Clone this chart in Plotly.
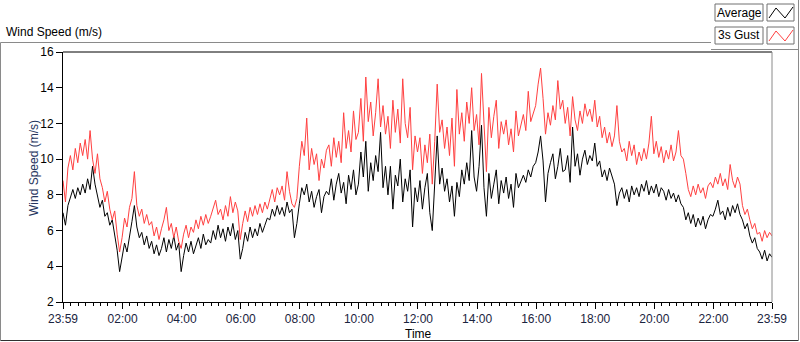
import pandas as pd
import plotly.graph_objects as go

# ---------------- data (5-minute samples) ----------------
start_time = "2023-05-01 23:59"
end_time = "2023-05-02 23:59"

average_speed = [
    7.0, 6.3, 7.4, 7.9, 8.3, 7.8, 8.4, 8.0, 8.6, 8.1, 8.9, 8.3,
    9.6, 8.6, 8.0, 7.3, 7.7, 6.8, 7.0, 6.3, 6.6, 5.7, 4.9, 3.7,
    4.4, 5.3, 4.8, 5.8, 6.5, 7.4, 6.2, 5.6, 5.9, 5.2, 5.7, 5.0,
    5.4, 4.7, 5.2, 4.6, 5.0, 5.6, 4.8, 5.5, 5.0, 5.7, 4.9, 5.3,
    3.7, 4.6, 5.3, 4.8, 5.4, 4.7, 5.1, 5.6, 5.0, 5.8, 5.2, 5.5,
    5.3, 6.0, 5.5, 6.3, 5.6, 6.1, 5.4, 6.2, 5.7, 6.4, 5.5, 6.0,
    4.4, 5.0, 5.9, 5.4, 6.2, 5.6, 6.1, 5.7, 6.4, 5.9, 6.3, 6.7,
    6.6, 7.2, 6.8, 7.4, 6.9, 7.3, 6.8, 7.6, 7.0, 7.2, 5.6, 6.4,
    7.5, 8.4, 8.0, 8.6, 7.6, 8.2, 7.3, 7.9, 8.3, 7.0, 7.9, 8.2,
    8.0, 8.9, 7.7, 8.6, 9.2, 8.1, 8.7, 7.5, 9.1, 8.3, 9.4, 8.0,
    8.6, 10.4, 9.0, 11.0, 8.2, 9.8, 8.8, 10.2, 9.3, 11.5, 8.4, 9.6,
    8.0, 9.6, 7.2, 9.1, 8.5, 10.0, 7.6, 8.9, 8.2, 9.4, 6.2, 8.4,
    7.6, 8.8, 7.2, 8.4, 9.2, 7.0, 6.0, 9.0, 11.3, 8.6, 9.5, 8.2,
    8.9, 7.6, 8.5, 6.8, 8.7, 7.9, 9.4, 8.6, 9.8, 8.8, 11.6, 9.0,
    8.2, 9.6, 11.9, 8.4, 6.8, 9.2, 7.8, 8.6, 9.4, 7.5, 8.8, 8.1,
    9.0, 7.8, 8.6, 7.3, 9.2, 8.4, 8.8, 9.1, 8.7, 9.4, 9.0, 9.6,
    9.8, 10.4, 11.3, 9.9, 7.6, 9.2, 9.8, 10.3, 8.9, 9.6, 10.6, 9.3,
    9.4, 10.2, 8.7, 11.8, 9.6, 10.3, 9.1, 10.0, 10.5, 9.7, 10.2, 9.9,
    10.9, 9.6, 9.9, 9.0, 9.4, 8.8, 9.5, 9.0, 8.6, 7.4, 8.1, 8.4,
    7.8, 8.3, 7.6, 8.5, 8.0, 8.4, 7.9, 8.6, 8.2, 8.8, 8.0, 8.5,
    8.1, 8.6, 7.9, 8.4, 8.2, 7.7, 8.3, 7.8, 8.1, 7.6, 8.0, 7.5,
    7.3, 6.6, 7.0, 6.4, 6.9, 6.2, 6.7, 6.3, 6.8, 6.1, 6.6, 6.9,
    6.8, 7.2, 7.7, 6.9, 7.1, 6.6, 7.3, 6.8, 7.4, 7.0, 7.5, 6.9,
    6.6, 6.1, 6.4, 5.7, 5.3, 5.6, 5.0, 4.8, 4.4, 4.9, 4.3, 4.7, 4.5,
]

gust_speed = [
    8.8, 7.6, 9.5, 10.2, 9.4, 10.6, 9.8, 10.9, 10.2, 11.1, 10.0, 11.6,
    10.0, 9.2, 10.3, 8.9, 8.4, 7.6, 8.2, 7.2, 6.6, 7.1, 5.8, 4.8,
    5.6, 6.7, 6.2, 7.3, 7.8, 9.3, 7.4, 6.8, 7.2, 6.4, 6.9, 6.3,
    6.5, 5.7, 6.2, 5.5, 6.1, 6.6, 7.3, 6.0, 6.4, 5.6, 6.2, 5.4,
    5.0, 5.8, 6.3, 5.6, 6.2, 5.9, 6.6, 6.1, 6.8, 6.3, 6.9, 6.4,
    6.8, 7.3, 7.7, 6.9, 7.2, 6.6, 7.4, 6.8, 7.9, 7.0, 7.6, 7.1,
    5.5, 6.4, 7.1, 6.5, 7.3, 6.8, 7.4, 6.9, 7.5, 7.0, 7.6, 7.2,
    7.8, 8.3, 7.6, 8.4, 8.0, 8.5, 7.7, 9.3, 8.2, 7.5, 7.3, 7.8,
    9.6, 11.0, 10.2, 12.3, 9.4, 10.6, 9.7, 10.3, 8.8, 10.0, 9.5, 10.5,
    10.8, 9.6, 11.2, 10.1, 11.0, 9.8, 12.6, 10.6, 11.6, 10.4, 12.7, 11.1,
    11.5, 13.4, 11.0, 14.6, 12.1, 13.2, 11.3, 12.6, 14.5, 11.8, 13.0, 11.4,
    12.4, 10.6, 13.3, 11.5, 12.8, 10.9, 14.5, 12.0, 11.2, 12.9, 9.4, 11.3,
    10.4, 11.2, 9.2, 10.8, 9.8, 11.4, 8.6, 11.0, 14.2, 11.5, 12.2, 10.6,
    11.8, 10.2, 12.3, 9.6, 13.9, 11.4, 12.6, 11.0, 13.2, 12.0, 14.0, 11.6,
    12.5, 10.8, 14.8, 12.0, 9.3, 12.9, 11.2, 12.4, 13.3, 10.6, 12.1, 11.4,
    12.2, 10.8, 11.7, 10.4, 12.7, 11.3, 12.0, 12.5, 11.6, 13.8, 12.1, 12.6,
    13.0, 14.2, 15.1, 13.4, 11.4, 12.6, 11.9, 13.0, 12.2, 14.4, 12.8, 13.3,
    12.0, 12.9, 11.3, 13.5, 12.2, 11.6, 12.7, 12.0, 13.1, 12.4, 12.8, 12.1,
    13.3, 11.8, 12.4, 11.2, 11.8, 10.9, 11.5, 10.7, 11.3, 13.0, 11.0, 10.4,
    10.6, 9.9, 11.0, 10.2, 10.8, 9.7, 10.4, 9.9, 10.6, 10.0, 10.9, 12.4,
    10.3, 11.0, 10.1, 10.7, 9.8, 10.5, 10.0, 10.8, 9.9, 10.4, 11.6, 10.2,
    10.0, 9.2, 8.3, 7.9, 8.5, 8.0, 8.6, 8.1, 8.4, 7.8, 8.5, 8.7,
    8.4, 9.0, 8.6, 9.2, 8.5, 8.9, 8.3, 9.7, 8.8, 8.4, 9.0, 8.6,
    7.4, 6.9, 7.2, 6.6, 6.1, 6.4, 5.8, 5.9, 5.4, 6.0, 5.6, 5.9, 5.7,
]

tick_labels = ["23:59", "02:00", "04:00", "06:00", "08:00", "10:00", "12:00",
               "14:00", "16:00", "18:00", "20:00", "22:00", "23:59"]
y_ticks = [2, 4, 6, 8, 10, 12, 14, 16]

series_names = ["Average", "3s Gust"]
series_colors = ["#000000", "#ff4040"]

# ---------------- derived axis helpers ----------------
times = pd.date_range(start_time, periods=len(average_speed), freq="5min")
tick_times = ([pd.Timestamp(start_time)] +
              [pd.Timestamp("2023-05-02 %02d:00" % h) for h in range(2, 24, 2)] +
              [pd.Timestamp(end_time)])
minor_times = pd.date_range("2023-05-02 00:00", "2023-05-02 23:45", freq="15min")

W, H = 800, 342
L, R, T, B = 63, 772, 52, 302


def px(x):
    return (x - L) / (R - L)


def py(y):
    return (B - y) / (B - T)


FONT = "Liberation Sans, Arial, sans-serif"
GRAY = "#8a8a8a"

fig = go.Figure()
fig.add_trace(go.Scatter(x=times, y=average_speed, mode="lines", name=series_names[0],
                         line=dict(color=series_colors[0], width=1), hoverinfo="skip"))
fig.add_trace(go.Scatter(x=times, y=gust_speed, mode="lines", name=series_names[1],
                         line=dict(color=series_colors[1], width=1), hoverinfo="skip"))

shapes = []


def line(x0, y0, x1, y1, color, width=1):
    shapes.append(dict(type="line", xref="paper", yref="paper",
                       x0=px(x0), y0=py(y0), x1=px(x1), y1=py(y1),
                       line=dict(color=color, width=width), layer="above"))


# outer panel frame
line(0.5, 42.5, 711, 42.5, GRAY)
line(0.5, 42.5, 0.5, 340.5, GRAY)
line(0.5, 340.5, 798.5, 340.5, "#303030")
line(798.5, 0, 798.5, 340.5, GRAY)
line(711, 49.5, 798.5, 49.5, GRAY)
# plot frame (top & right)
line(L, T, R, T, "#000000")
line(R, T, R, B, GRAY)

annotations = []

# legend boxes
for i, (name, col) in enumerate(zip(series_names, series_colors)):
    top = 4 + 23 * i
    bot = top + 17
    shapes.append(dict(type="rect", xref="paper", yref="paper",
                       x0=px(715), x1=px(763), y0=py(bot), y1=py(top),
                       line=dict(color="#707070", width=1), fillcolor="white", layer="above"))
    shapes.append(dict(type="rect", xref="paper", yref="paper",
                       x0=px(767), x1=px(794), y0=py(bot), y1=py(top),
                       line=dict(color="#707070", width=1), fillcolor="white", layer="above"))
    pts = [(769, bot - 3), (776, top + 4), (785, bot - 3), (793, top + 3)]
    path = "M " + " L ".join("%f,%f" % (px(a), py(b)) for a, b in pts)
    shapes.append(dict(type="path", xref="paper", yref="paper", path=path,
                       line=dict(color=col, width=1), layer="above"))
    annotations.append(dict(text=name, xref="paper", yref="paper", x=px(739), y=py((top + bot) / 2),
                            xanchor="center", yanchor="middle", showarrow=False,
                            font=dict(family=FONT, size=12, color="#000000")))

annotations.append(dict(text="Wind Speed (m/s)", xref="paper", yref="paper", x=px(4), y=py(32),
                        xanchor="left", yanchor="middle", showarrow=False,
                        font=dict(family=FONT, size=12, color="#000000")))
annotations.append(dict(text="Wind Speed (m/s)", xref="paper", yref="paper", x=px(34), y=py(168),
                        xanchor="center", yanchor="middle", showarrow=False, textangle=-90,
                        font=dict(family=FONT, size=12, color="#26365e")))
annotations.append(dict(text="Time", xref="paper", yref="paper", x=px(418), y=py(334),
                        xanchor="center", yanchor="middle", showarrow=False,
                        font=dict(family=FONT, size=12, color="#000000")))

fig.update_layout(
    width=W, height=H,
    margin=dict(l=L, r=W - R, t=T, b=H - B, pad=0),
    paper_bgcolor="white", plot_bgcolor="white",
    showlegend=False,
    font=dict(family=FONT, size=12, color="#000000"),
    shapes=shapes, annotations=annotations,
    xaxis=dict(
        type="date",
        range=[tick_times[0], tick_times[-1]],
        tickmode="array", tickvals=tick_times, ticktext=tick_labels,
        ticks="outside", ticklen=6, tickwidth=1, tickcolor="#000000",
        showline=True, linecolor="#000000", linewidth=1,
        showgrid=False, zeroline=False,
        tickfont=dict(family=FONT, size=12, color="#1a2440"),
        minor=dict(tickmode="array", tickvals=list(minor_times), ticks="outside",
                   ticklen=3, tickwidth=1, tickcolor="#000000", showgrid=False),
    ),
    yaxis=dict(
        range=[2, 16], tickmode="array", tickvals=y_ticks,
        ticks="outside", ticklen=6, tickwidth=1, tickcolor="#000000",
        showline=True, linecolor="#000000", linewidth=1,
        showgrid=False, zeroline=False,
        tickfont=dict(family=FONT, size=12, color="#000000"),
    ),
)

fig.write_html("out.html", config={"displayModeBar": False},
               post_script="document.body.style.margin='0';document.body.style.padding='0';"
                           "document.body.style.overflow='hidden';")
